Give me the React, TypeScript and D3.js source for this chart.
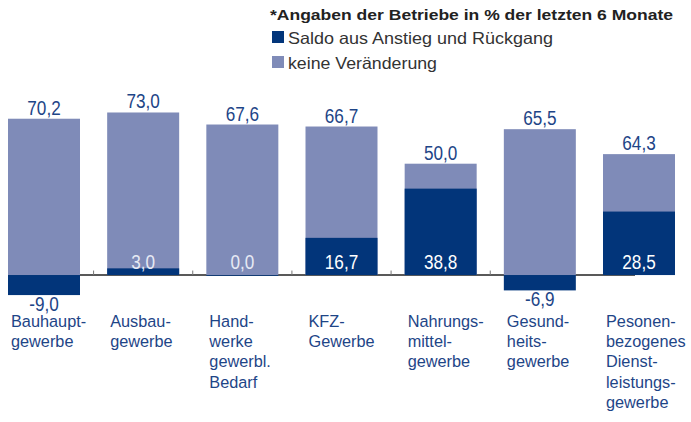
import React from "react";
import * as d3 from "d3";

const categories = [
  "Bauhauptgewerbe",
  "Ausbaugewerbe",
  "Handwerke gewerbl. Bedarf",
  "KFZ-Gewerbe",
  "Nahrungsmittelgewerbe",
  "Gesundheitsgewerbe",
  "Pesonenbezogenes Dienstleistungsgewerbe",
];
const categoryLines = [
  ["Bauhaupt-", "gewerbe"],
  ["Ausbau-", "gewerbe"],
  ["Hand-", "werke", "gewerbl.", "Bedarf"],
  ["KFZ-", "Gewerbe"],
  ["Nahrungs-", "mittel-", "gewerbe"],
  ["Gesund-", "heits-", "gewerbe"],
  ["Pesonen-", "bezogenes", "Dienst-", "leistungs-", "gewerbe"],
];
// "keine Veränderung" – bar heights as drawn in the picture
const keineValues = [70.2, 73.0, 67.6, 66.7, 50.0, 65.5, 54.3];
const keineLabels = ["70,2", "73,0", "67,6", "66,7", "50,0", "65,5", "64,3"];
// "Saldo aus Anstieg und Rückgang"
const saldoValues = [-9.0, 3.0, 0.0, 16.7, 38.8, -6.9, 28.5];
const saldoLabels = ["-9,0", "3,0", "0,0", "16,7", "38,8", "-6,9", "28,5"];

const legendTitle = "*Angaben der Betriebe in % der letzten 6 Monate";
const legendItems = ["Saldo aus Anstieg und Rückgang", "keine Veränderung"];

const W = 691;
const H = 422;
const DARK = "#02357a";
const LIGHT = "#7f8bb8";
const TEXT_BLUE = "#1e4587";
const SANS = "'Liberation Sans', Arial, Helvetica, sans-serif";

function NumLabel({ x, y, fill, children }: { x: number; y: number; fill: string; children: React.ReactNode }) {
  return (
    <text
      transform={`translate(${x},${y}) scale(0.88,1)`}
      textAnchor="middle"
      fontFamily={SANS}
      fontSize={19.5}
      fill={fill}
    >
      {children}
    </text>
  );
}

export default function App() {
  const x = d3
    .scaleBand<string>()
    .domain(categories)
    .range([8, 675])
    .paddingInner(0.274)
    .paddingOuter(0);
  const y = d3.scaleLinear().domain([-10, 80]).range([297.3, 96.9]);
  const bw = x.bandwidth();
  const step = x.step();
  const zero = y(0);

  return (
    <svg
      width={W}
      height={H}
      viewBox={`0 0 ${W} ${H}`}
      style={{ position: "absolute", left: 0, top: 0, background: "#fff" }}
    >
      {/* legend */}
      <text
        x={270}
        y={19.5}
        fontFamily={SANS}
        fontWeight="bold"
        fontSize={15.5}
        fill="#222"
        textLength={403}
        lengthAdjust="spacingAndGlyphs"
      >
        {legendTitle}
      </text>
      <rect x={272} y={31} width={12} height={12} fill={DARK} />
      <text
        x={288}
        y={43.5}
        fontFamily={SANS}
        fontSize={16.5}
        fill="#333"
        textLength={265}
        lengthAdjust="spacingAndGlyphs"
      >
        {legendItems[0]}
      </text>
      <rect x={272} y={56} width={12} height={12} fill={LIGHT} />
      <text
        x={288}
        y={68.5}
        fontFamily={SANS}
        fontSize={16.5}
        fill="#333"
        textLength={149}
        lengthAdjust="spacingAndGlyphs"
      >
        {legendItems[1]}
      </text>

      {/* zero line */}
      <line x1={8} x2={635} y1={zero} y2={zero} stroke="#222" strokeWidth={1.5} />
      {categories.slice(0, 5).map((c) => {
        const tx = (x(c) as number) + bw + (step - bw) / 2;
        return (
          <line key={"t" + c} x1={tx} x2={tx} y1={zero - 4.5} y2={zero} stroke="#777" strokeWidth={1} />
        );
      })}

      {categories.map((c, i) => {
        const x0 = x(c) as number;
        const cx = x0 + bw / 2;
        const kv = keineValues[i];
        const sv = saldoValues[i];
        const sTop = y(Math.max(0, sv));
        const sBot = y(Math.min(0, sv));
        return (
          <g key={c}>
            <rect x={x0} y={y(kv)} width={bw} height={zero - y(kv)} fill={LIGHT} />
            <rect x={x0} y={sTop} width={bw} height={Math.max(sBot - sTop, 0.8)} fill={DARK} />
            <NumLabel x={cx} y={y(kv) - 4} fill={TEXT_BLUE}>
              {keineLabels[i]}
            </NumLabel>
            {sv >= 0 ? (
              <NumLabel x={cx} y={zero - 6.5} fill={sv > 5 ? "#ffffff" : "#e6e9f4"}>
                {saldoLabels[i]}
              </NumLabel>
            ) : (
              <NumLabel x={cx} y={sBot + 16} fill={TEXT_BLUE}>
                {saldoLabels[i]}
              </NumLabel>
            )}
            <text fontFamily={SANS} fontSize={16.3} fill={TEXT_BLUE}>
              {categoryLines[i].map((ln, j) => (
                <tspan key={j} x={x0 + 3} y={327 + j * 20.2}>
                  {ln}
                </tspan>
              ))}
            </text>
          </g>
        );
      })}
    </svg>
  );
}
